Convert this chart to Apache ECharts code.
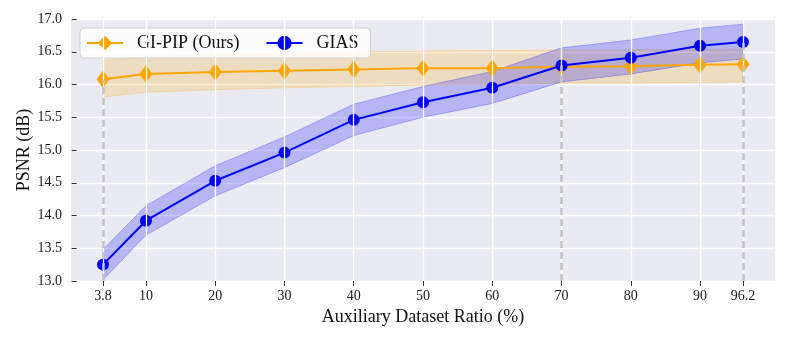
<!DOCTYPE html>
<html><head><meta charset="utf-8">
<script src="https://cdn.jsdelivr.net/npm/echarts@6/dist/echarts.min.js"></script>
<style>html,body{margin:0;padding:0;background:#fff}#c{width:789px;height:341px}</style>
</head><body><div id="c"></div>
<script>
var ratios = [3.8, 10, 20, 30, 40, 50, 60, 70, 80, 90, 96.2];
var xTicks = [3.8, 10, 20, 30, 40, 50, 60, 70, 80, 90, 96.2];
var gipip = [16.08, 16.16, 16.19, 16.21, 16.23, 16.25, 16.25, 16.27, 16.28, 16.30, 16.31];
var gipipLo = [15.81, 15.88, 15.92, 15.95, 15.97, 15.99, 16.00, 16.02, 16.02, 16.03, 16.04];
var gipipHi = [16.37, 16.42, 16.46, 16.48, 16.50, 16.51, 16.52, 16.53, 16.53, 16.53, 16.54];
var gias = [13.25, 13.92, 14.53, 14.96, 15.46, 15.73, 15.95, 16.29, 16.41, 16.59, 16.65];
var giasLo = [13.02, 13.70, 14.30, 14.73, 15.22, 15.50, 15.71, 16.04, 16.16, 16.33, 16.39];
var giasHi = [13.48, 14.15, 14.76, 15.20, 15.70, 15.97, 16.20, 16.56, 16.68, 16.86, 16.92];
var dashX = [3.8, 70, 96.2];
var dashTop = [16.08, 16.29, 16.65];

var FONT = 'Liberation Serif';
function pairs(xs, ys){ return xs.map(function(x,i){ return [x, ys[i]]; }); }
function bandSeries(lo, hi, fill, stroke){
  return {
    type: 'custom', silent: true, z: 2,
    data: ratios.map(function(x,i){ return [x, lo[i], hi[i]]; }),
    encode: {x: 0, y: [1, 2]},
    renderItem: function(params, api){
      if (params.dataIndex !== 0) return null;
      var pts = [];
      for (var i = 0; i < ratios.length; i++) pts.push(api.coord([ratios[i], hi[i]]));
      for (var j = ratios.length - 1; j >= 0; j--) pts.push(api.coord([ratios[j], lo[j]]));
      return {type: 'polygon', shape: {points: pts},
        style: {fill: fill, stroke: stroke, lineWidth: 1}};
    }
  };
}

var chart = echarts.init(document.getElementById('c'), null, {renderer: 'canvas'});
chart.setOption({
  animation: false,
  textStyle: {fontFamily: FONT},
  grid: {left: 71, right: 14, top: 19, bottom: 60, show: true,
    backgroundColor: '#EAEAF2', borderWidth: 0},
  legend: {
    left: 80, top: 28, itemWidth: 36, itemHeight: 18, itemGap: 26,
    padding: [6, 12, 6, 6],
    backgroundColor: 'rgba(255,255,255,0.85)', borderColor: '#d0d0d0', borderWidth: 1, borderRadius: 4,
    textStyle: {fontFamily: FONT, fontSize: 18, color: '#111'},
    formatter: function(name){ return '  ' + name; },
    data: ['GI-PIP (Ours)', 'GIAS']
  },
  xAxis: {
    type: 'value', min: -0.82, max: 100.82,
    name: 'Auxiliary Dataset Ratio (%)', nameLocation: 'middle', nameGap: 27,
    nameMoveOverlap: false,
    nameTextStyle: {fontFamily: FONT, fontSize: 18, color: '#111'},
    axisLine: {show: false},
    axisTick: {show: true, length: 5, lineStyle: {color: '#333'}, customValues: xTicks},
    axisLabel: {fontFamily: FONT, fontSize: 14, color: '#1a1a1a', margin: 8, customValues: xTicks,
      formatter: function(v){ return String(v); }},
    splitLine: {show: false}
  },
  yAxis: {
    type: 'value', min: 13, max: 17, interval: 0.5,
    name: 'PSNR (dB)', nameLocation: 'middle', nameGap: 38,
    nameMoveOverlap: false,
    nameTextStyle: {fontFamily: FONT, fontSize: 18, color: '#111'},
    axisLine: {show: false},
    axisTick: {show: true, length: 5, lineStyle: {color: '#333'}},
    axisLabel: {fontFamily: FONT, fontSize: 14, color: '#1a1a1a', margin: 9,
      formatter: function(v){ return v.toFixed(1); }},
    splitLine: {show: true, lineStyle: {color: '#ffffff', width: 1.3}}
  },
  series: [
    {
      name: '_grid', type: 'line', data: [], z: 0, silent: true,
      markLine: {silent: true, symbol: 'none', label: {show: false},
        lineStyle: {color: '#ffffff', width: 1.3, type: 'solid'},
        data: xTicks.map(function(x){ return {xAxis: x}; })}
    },
    {
      name: '_dash', type: 'line', data: [], z: 1, silent: true,
      markLine: {silent: true, symbol: 'none', label: {show: false},
        lineStyle: {color: '#c4c4c4', width: 2.5, type: [7, 4]},
        data: dashX.map(function(x, i){ return [{coord: [x, 13]}, {coord: [x, dashTop[i]]}]; })}
    },
    bandSeries(gipipLo, gipipHi, 'rgba(255,165,0,0.2)', 'rgba(255,165,0,0.25)'),
    bandSeries(giasLo, giasHi, 'rgba(0,0,255,0.22)', 'rgba(0,0,255,0.25)'),
    {
      name: 'GI-PIP (Ours)', type: 'line', z: 3, data: pairs(ratios, gipip),
      symbol: 'diamond', symbolSize: [13, 18], color: '#FFA500',
      lineStyle: {color: '#FFA500', width: 2}, itemStyle: {color: '#FFA500'}
    },
    {
      name: 'GIAS', type: 'line', z: 4, data: pairs(ratios, gias),
      symbol: 'circle', symbolSize: 12, color: '#0000FF',
      lineStyle: {color: '#0000FF', width: 2}, itemStyle: {color: '#0000FF'}
    }
  ]
});
</script></body></html>
